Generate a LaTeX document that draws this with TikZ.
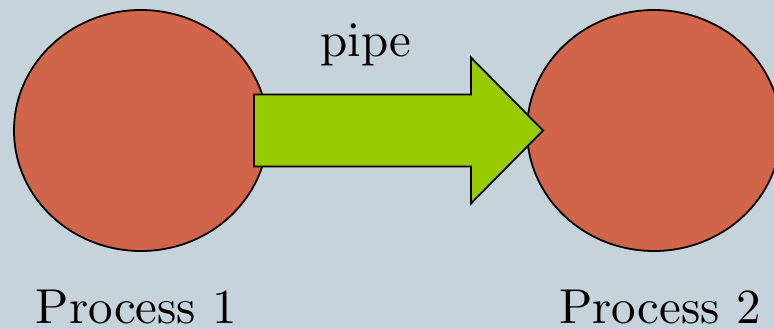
\documentclass[tikz,border=0pt]{standalone}
\usetikzlibrary{shapes.geometric}
\definecolor{bgcol}{RGB}{199,211,218}
\definecolor{proccol}{RGB}{209,101,74}
\definecolor{pipecol}{RGB}{153,204,0}
\font\lblfont=cmr10 at 49pt
\begin{document}
\begin{tikzpicture}[x=1pt,y=-1pt,
  procnode/.style={ellipse,draw=black,line width=1.8pt,fill=proccol,
    minimum width=254pt,minimum height=241pt,inner sep=0pt},
  lbl/.style={font=\lblfont,inner sep=0pt,anchor=base},
  pipeshape/.style={draw=black,line width=1.8pt,fill=pipecol,line join=miter}]
\useasboundingbox (0,0) rectangle (774,329);
\fill[bgcol] (0,0) rectangle (774,329);
\clip (0,0) rectangle (774,329);
\node[procnode] (p1) at (141,130.5) {};
\node[procnode] (p2) at (654,130.5) {};
\coordinate (tail) at (254,130.5);
\coordinate (tip) at (543,130.5);
\draw[pipeshape] ([shift={(0,-36)}]tail) -- ([shift={(-72,-36)}]tip)
  -- ([shift={(-72,-73)}]tip) -- (tip) -- ([shift={(-72,73)}]tip)
  -- ([shift={(-72,36)}]tip) -- ([shift={(0,36)}]tail) -- cycle;
\node[lbl] (pipelbl) at (366,57) {pipe};
\node[lbl] (l1) at (136.5,323) {Process 1};
\node[lbl] (l2) at (660,323) {Process 2};
\end{tikzpicture}
\end{document}
